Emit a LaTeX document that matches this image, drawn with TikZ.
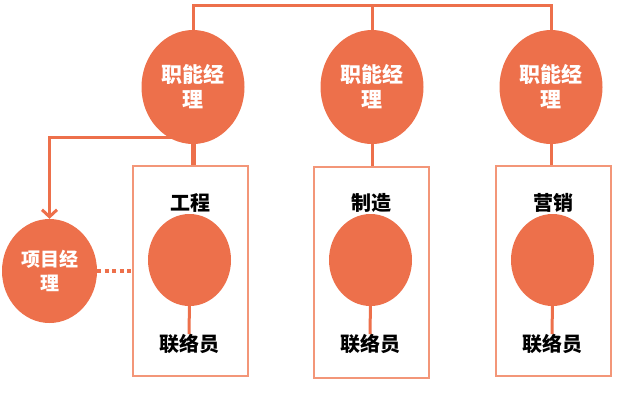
\documentclass[tikz,border=0pt]{standalone}
\usepackage{fontspec}
\newfontfamily\cjk{Noto Sans CJK SC}
\usetikzlibrary{arrows.meta,shapes.geometric,backgrounds}
\definecolor{org}{RGB}{237,112,75}
\definecolor{boxc}{RGB}{243,150,120}
\begin{document}
\begin{tikzpicture}[x=1pt,y=-1pt,
  mgr/.style={ellipse, fill=org, draw=none, minimum width=103pt, minimum height=114pt, inner sep=0pt, text=white, align=center, font=\cjk\bfseries\fontsize{21}{25}\selectfont},
  pmgr/.style={ellipse, fill=org, draw=none, minimum width=95pt, minimum height=104pt, inner sep=0pt, text=white, align=center, font=\cjk\bfseries\fontsize{19}{24}\selectfont},
  dept/.style={rectangle, draw=boxc, line width=2pt, fill=white, minimum width=115pt, minimum height=210pt, inner sep=0pt},
  unit/.style={ellipse, fill=org, draw=none, minimum width=83pt, minimum height=92pt, inner sep=0pt},
  lbl/.style={inner sep=0pt, text=black, font=\cjk\bfseries\fontsize{20}{24}\selectfont},
  ln/.style={draw=org, line width=3pt},
  thickln/.style={draw=org, line width=5pt},
  dotln/.style={draw=org, line width=4pt, dash pattern=on 4pt off 3.5pt}
]
\useasboundingbox (0,0) rectangle (620,402);
% boxes
\node[dept] (b1) at (190.5,271) {};
\node[dept, minimum height=211pt] (b2) at (371.5,272.5) {};
\node[dept] (b3) at (553.5,271) {};
% managers
\node[mgr] (f1) at (193,87) {职能经\\理};
\node[mgr] (f2) at (372,87) {职能经\\理};
\node[mgr] (f3) at (551,87) {职能经\\理};
\node[pmgr] (pm) at (49.5,271) {项目经\\理};
% units
\node[unit] (c1) at (189.5,260) {};
\node[unit] (c2) at (370.5,260) {};
\node[unit] (c3) at (552.5,260) {};
% labels
\node[lbl] (d1) at (190,203) {工程};
\node[lbl] (d2) at (371,203) {制造};
\node[lbl] (d3) at (553,203) {营销};
\node[lbl] (l1) at (189,344) {联络员};
\node[lbl] (l2) at (370,344) {联络员};
\node[lbl] (l3) at (552,344) {联络员};
\coordinate (top) at (0,5);
\coordinate (branch) at (0,137);
\begin{scope}[on background layer]
  \draw[ln] (f1.center) -- (f1.center |- top) -- (f3.center |- top) -- (f3.center);
  \draw[ln] (f2.center) -- (f2.center |- top);
  \draw[ln, -{Straight Barb[length=7pt,width=15pt]}] (f1.center |- branch) -| (pm.north);
\end{scope}
\draw[thickln] (f1.south) -- (f1.south |- b1.north);
\draw[ln] (f2.south) -- (f2.south |- b2.north);
\draw[ln] (f3.south) -- (f3.south |- b3.north);
\draw[dotln] (pm.east) -- (b1.west);
\draw[ln] ([yshift=4pt]c1.south) -- (l1.north);
\draw[ln] ([yshift=4pt]c2.south) -- (l2.north);
\draw[ln] ([yshift=4pt]c3.south) -- (l3.north);
\end{tikzpicture}
\end{document}
